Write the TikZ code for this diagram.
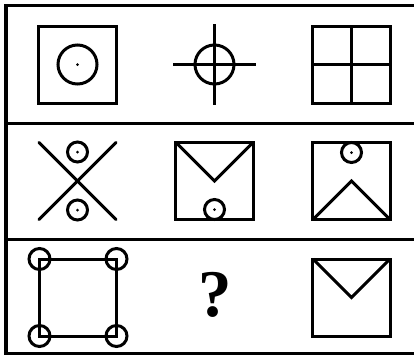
\documentclass[tikz,border=0pt]{standalone}
\usepackage{fontspec}
\setmainfont{Liberation Serif}
\usetikzlibrary{positioning}

\begin{document}
\begin{tikzpicture}[
      x=1bp, y=-1bp,
      fig/.style={line width=3bp},
      box/.style={draw, fig, minimum size=77bp, inner sep=0pt, outer sep=0pt},
      cell/.style={minimum size=77bp, inner sep=0pt, outer sep=0pt},
      ring/.style={circle, draw, fig, minimum size=20bp, inner sep=0pt, outer sep=0pt},
      bigring/.style={ring, minimum size=39bp},
      dot/.style={circle, fill, minimum size=3bp, inner sep=0pt},
      qmark/.style={font=\fontsize{67}{67}\selectfont\bfseries, inner sep=0pt},
    ]
      \useasboundingbox (0,0) rectangle (414,356);
      \clip (0,0) rectangle (414,356);
      % outer frame + row lines
      \draw[fig] (6,5.5) rectangle (430,353.5);
      \draw[fig] (6,123) -- (430,123);
      \draw[fig] (6,239) -- (430,239);
      % row 1
      \node[box] (b11) at (77.5,64.5) {};
      \node[bigring] (r11) at (b11) {};
      \node[dot] at (r11) {};
      \node[cell, minimum width=82bp, minimum height=81bp] (c12) at (214.5,64.5) {};
      \node[bigring] (r12) at (c12) {};
      \draw[fig] (c12.west) -- (c12.east);
      \draw[fig] (c12.north) -- (c12.south);
      \node[box] (b13) at (351.5,64.5) {};
      \draw[fig] (b13.north) -- (b13.south);
      \draw[fig] (b13.west) -- (b13.east);
      % row 2
      \node[cell] (c21) at (77.5,181) {};
      \draw[fig, line cap=round] (c21.north west) -- (c21.south east);
      \draw[fig, line cap=round] (c21.north east) -- (c21.south west);
      \node[ring] (r21a) at (77.5,152) {};
      \node[ring] (r21b) at (77.5,210) {};
      \node[dot] at (r21a) {};
      \node[dot] at (r21b) {};
      \node[box] (b22) at (214.5,181) {};
      \draw[fig] (b22.north west) -- (b22.center) -- (b22.north east);
      \node[ring] (r22) at (214.5,209.5) {};
      \node[dot] at (r22) {};
      \node[box] (b23) at (351.5,181) {};
      \draw[fig] (b23.south west) -- (b23.center) -- (b23.south east);
      \node[ring] (r23) at (351.5,152.5) {};
      \node[dot] at (r23) {};
      % row 3
      \node[box] (b31) at (78,297.5) {};
      \foreach \corner in {north west, north east, south west, south east}
        \node[ring, minimum size=21bp] at (b31.\corner) {};
      \node[qmark] (q) at (215,295) {?};
      \node[box] (b33) at (351.5,297.5) {};
      \draw[fig] (b33.north west) -- (b33.center) -- (b33.north east);
    \end{tikzpicture}
\end{document}
